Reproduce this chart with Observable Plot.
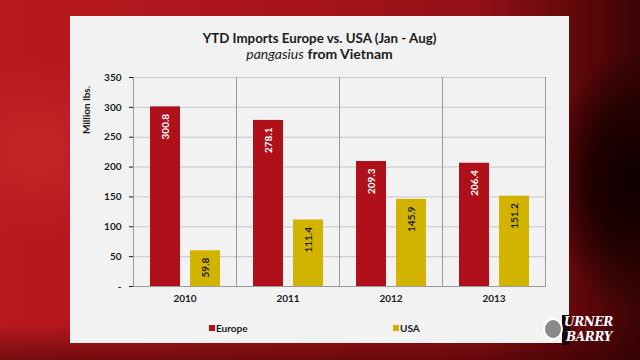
<!DOCTYPE html>
<html>
<head>
<meta charset="utf-8">
<script src="https://cdn.jsdelivr.net/npm/d3@7"></script>
<script src="https://cdn.jsdelivr.net/npm/@observablehq/plot@0.6"></script>
<style>
  html, body { margin: 0; padding: 0; }
  body {
    width: 640px; height: 360px; overflow: hidden; position: relative;
    font-family: Lato, "Open Sans", sans-serif;
    background:
      radial-gradient(ellipse 80px 130px at 630px 180px, #0e0000 0%, #220102 50%, rgba(60,4,6,0) 100%),
      radial-gradient(ellipse 120px 90px at 40px 150px, rgba(220,60,60,0.35) 0%, rgba(220,60,60,0) 100%),
      linear-gradient(180deg, rgba(0,0,0,0) 0%, rgba(0,0,0,0) 90%, rgba(50,0,0,0.5) 100%),
      linear-gradient(90deg, #b9191f 0%, #a81419 45%, #931017 75%, #5a0709 92%, #3a0405 100%);
  }
  #panel {
    position: absolute; left: 70px; top: 16px; width: 499px; height: 327px;
    background: #f2f2f2;
  }
  #title {
    position: absolute; left: 70px; width: 499px; top: 30px; text-align: center;
    font-weight: bold; font-size: 13.3px; color: #1a1a1a; line-height: 16px;
  }
  #subtitle {
    position: absolute; left: 70px; width: 499px; top: 46px; text-align: center;
    font-size: 14px; color: #1a1a1a; line-height: 16px;
  }
  #subtitle i { font-weight: normal; }
  #subtitle b { font-weight: bold; }
  #chart { position: absolute; left: 70px; top: 60px; }
  #ylabel {
    position: absolute; left: 86px; top: 110px; transform: translate(-50%, -50%) rotate(-90deg);
    font-weight: bold; font-size: 10px; color: #1a1a1a; white-space: nowrap;
  }
  #legend { position: absolute; top: 322px; left: 0; width: 640px; height: 14px; font-weight: bold; font-size: 10px; color: #1a1a1a; }
  .li { position: absolute; display: flex; align-items: center; gap: 1px; }
  .sw { width: 6px; height: 6px; display: inline-block; }
  #logo { position: absolute; left: 543px; top: 314px; width: 92px; height: 40px; color: #fff; }
  #logo .back { position: absolute; left: 19px; top: 1px; width: 8px; height: 30px; background: #1c0203; }
  #logo .globe { position: absolute; left: 0px; top: 4px; width: 20px; height: 22px; border: 2px solid #fff; border-radius: 50%; box-sizing: border-box; background: #8a8a8a; }
  #logo .t { position: absolute; font-family: "DejaVu Serif", serif; font-style: italic; font-weight: bold; font-size: 12px; line-height: 12px; height: 12px; letter-spacing: -0.3px; white-space: nowrap; }
</style>
</head>
<body>
<div id="panel"></div>
<div id="title">YTD Imports Europe vs. USA (Jan - Aug)</div>
<div id="subtitle"><i>pangasius</i> <b>from Vietnam</b></div>
<div id="ylabel">Million lbs.</div>
<div id="chart"></div>
<div id="legend"></div>
<div id="logo"><div class="back"></div><div class="globe"></div><div class="t" style="top:2px; left:21px">URNER</div><div class="t" style="top:17px; left:23px">BARRY</div></div>
<script>
const years = ["2010", "2011", "2012", "2013"];
const seriesNames = ["Europe", "USA"];
const europe = [300.8, 278.1, 209.3, 206.4];
const usa = [59.8, 111.4, 145.9, 151.2];
const yTicks = [0, 50, 100, 150, 200, 250, 300, 350];
const colors = ["#b0101a", "#d2b400"];
const labelColors = ["#ffffff", "#1a1a1a"];

const data = years.flatMap((yr, i) => [
  {year: yr, series: "Europe", value: europe[i]},
  {year: yr, series: "USA", value: usa[i]}
]);

const chart = Plot.plot({
  width: 499,
  height: 250,
  marginLeft: 63,
  marginRight: 24,
  marginTop: 17,
  marginBottom: 24,
  style: {background: "transparent", fontFamily: "Lato, 'Open Sans', sans-serif", fontSize: "10px", fontWeight: "bold", color: "#1a1a1a"},
  fx: {domain: years, padding: 0, label: null, tickSize: 0, tickPadding: 8},
  x: {domain: seriesNames, paddingInner: 0.25, paddingOuter: 0.41, axis: null},
  y: {domain: [0, 350], ticks: yTicks, tickFormat: d => d === 0 ? "-" : d, label: null, tickSize: 4, tickPadding: 8},
  color: {domain: seriesNames, range: colors},
  marks: [
    Plot.gridY(yTicks, {stroke: "#c8c8c8", strokeOpacity: 1}),
    Plot.frame({anchor: "left", stroke: "#9a9a9a"}),
    Plot.frame({anchor: "right", stroke: "#9a9a9a"}),
    Plot.barY(data, {fx: "year", x: "series", y: "value", fill: "series"}),
    Plot.ruleY([0], {stroke: "#9a9a9a"}),
    Plot.text(data, {
      fx: "year", x: "series", y: "value",
      text: d => d.value.toFixed(1),
      rotate: -90, textAnchor: "end", dy: 7,
      fill: d => labelColors[seriesNames.indexOf(d.series)],
      fontSize: 10, fontWeight: "bold"
    })
  ]
});
document.getElementById("chart").appendChild(chart);

const legend = document.getElementById("legend");
const legendX = [209, 393];
seriesNames.forEach((s, i) => {
  const el = document.createElement("div");
  el.className = "li";
  el.style.left = legendX[i] + "px";
  el.innerHTML = `<span class="sw" style="background:${colors[i]}"></span><span>${s}</span>`;
  legend.appendChild(el);
});
</script>
</body>
</html>
